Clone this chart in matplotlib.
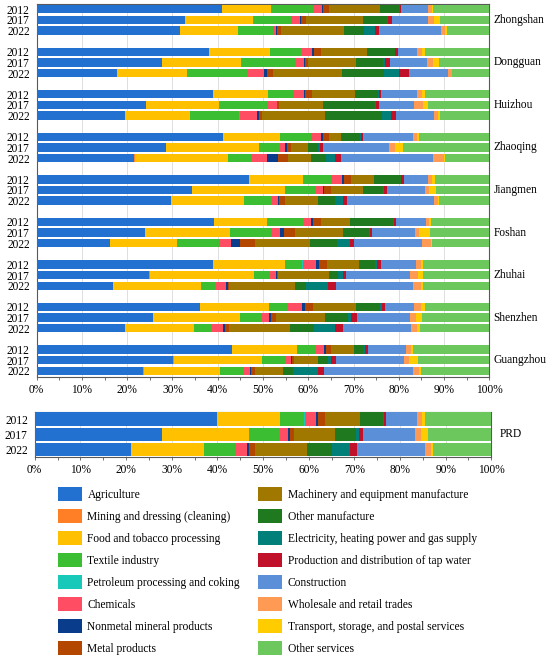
"""Sector shares of output by city, Pearl River Delta, 2012/2017/2022.

Stacked 100% horizontal bars: nine cities on top, PRD total below, shared
two-column legend at the bottom.
"""

import matplotlib
matplotlib.use("Agg")
import matplotlib.pyplot as plt
import numpy as np
from matplotlib.patches import Patch
from matplotlib.ticker import MultipleLocator, PercentFormatter

plt.rcParams["font.family"] = ["Liberation Serif", "DejaVu Serif"]
plt.rcParams["font.size"] = 8.3

SECTORS = [
    "Agriculture", "Mining and dressing (cleaning)", "Food and tobacco processing",
    "Textile industry", "Petroleum processing and coking", "Chemicals",
    "Nonmetal mineral products", "Metal products",
    "Machinery and equipment manufacture", "Other manufacture",
    "Electricity, heating power and gas supply",
    "Production and distribution of tap water", "Construction",
    "Wholesale and retail trades", "Transport, storage, and postal services",
    "Other services",
]
COLORS = [
    "#2270D0", "#FF7F27", "#FFC000", "#3CBE32", "#18C8B8", "#FF4D64",
    "#0A3C8C", "#B34700", "#A07800", "#1F7A1F", "#008078", "#C0102A",
    "#5B90D8", "#FF9A55", "#FFCC00", "#6CC85C",
]
YEARS = ["2012", "2017", "2022"]
CITIES = ["Zhongshan", "Dongguan", "Huizhou", "Zhaoqing", "Jiangmen",
          "Foshan", "Zhuhai", "Shenzhen", "Guangzhou"]

# shares (%) per year, sector order as SECTORS
ZHONGSHAN = [[40.9, 0.05, 10.8, 9.3, 0.0, 2.0, 0.3, 1.4, 11.3, 4.3, 0.1, 0.2, 5.9, 0.9, 0.2, 12.5],
             [32.8, 0.05, 15.0, 8.5, 0.0, 1.9, 0.15, 1.2, 12.5, 5.3, 0.4, 0.7, 8.0, 1.3, 1.3, 11.0],
             [31.8, 0.05, 12.7, 7.8, 0.0, 0.7, 0.1, 1.0, 14.0, 4.3, 2.4, 0.9, 13.7, 1.0, 0.5, 9.3]]
DONGGUAN = [[38.1, 0.05, 13.3, 7.1, 0.0, 2.3, 0.4, 1.5, 10.2, 6.1, 0.1, 0.6, 4.2, 1.1, 0.7, 14.2],
            [27.6, 0.05, 17.5, 12.1, 0.0, 1.8, 0.2, 0.6, 10.5, 6.0, 0.5, 1.0, 8.2, 1.3, 1.3, 11.2],
            [17.8, 0.05, 15.4, 13.5, 0.0, 3.7, 0.6, 1.3, 15.3, 9.2, 3.5, 2.1, 8.6, 0.9, 0.1, 8.2]]
HUIZHOU = [[39.0, 0.05, 12.2, 5.5, 0.0, 2.3, 0.3, 1.5, 9.5, 5.2, 0.1, 0.5, 8.1, 1.0, 0.7, 14.2],
           [24.2, 0.05, 16.3, 10.8, 0.0, 1.9, 0.1, 0.4, 9.8, 11.6, 0.1, 0.7, 7.9, 1.8, 1.3, 13.5],
           [19.5, 0.05, 14.2, 11.0, 0.2, 3.8, 0.3, 0.7, 13.9, 12.7, 1.8, 1.2, 8.3, 1.0, 0.5, 10.8]]
ZHAOQING = [[41.2, 0.05, 12.6, 6.9, 0.0, 2.1, 0.4, 1.3, 2.8, 4.2, 0.1, 0.4, 11.2, 0.9, 0.4, 15.5],
            [28.6, 0.05, 20.7, 4.3, 0.0, 1.3, 0.5, 0.9, 3.8, 2.1, 0.4, 0.7, 14.7, 1.3, 1.8, 19.1],
            [21.6, 0.05, 20.7, 5.1, 0.0, 3.5, 2.4, 2.1, 5.2, 3.2, 2.1, 1.3, 20.3, 2.6, 0.1, 9.8]]
JIANGMEN = [[47.1, 0.05, 11.9, 6.2, 0.0, 2.6, 0.4, 1.5, 5.1, 6.0, 0.1, 0.6, 5.2, 0.9, 0.7, 12.1],
            [34.4, 0.05, 20.5, 6.9, 0.0, 1.5, 0.3, 1.4, 7.1, 4.5, 0.1, 0.7, 8.5, 0.9, 1.5, 11.8],
            [29.7, 0.05, 16.3, 6.1, 0.0, 1.3, 0.3, 1.3, 7.4, 3.8, 1.7, 0.8, 19.4, 0.8, 0.2, 11.2]]
FOSHAN = [[39.1, 0.05, 11.8, 8.2, 0.0, 1.6, 0.4, 1.6, 6.5, 9.6, 0.1, 0.4, 6.7, 0.7, 0.4, 12.9],
          [23.9, 0.05, 18.7, 9.2, 0.0, 1.8, 1.0, 2.4, 10.7, 5.7, 0.2, 0.4, 9.5, 0.9, 2.4, 13.1],
          [16.2, 0.05, 14.9, 9.3, 0.0, 2.7, 1.8, 3.4, 12.1, 6.0, 2.9, 0.9, 15.2, 2.0, 0.1, 12.7]]
ZHUHAI = [[39.0, 0.05, 15.9, 3.6, 0.3, 2.9, 0.7, 1.7, 7.1, 3.6, 0.4, 0.8, 7.7, 1.1, 0.6, 14.6],
          [24.9, 0.05, 23.0, 3.4, 0.0, 1.5, 0.3, 0.2, 11.2, 2.1, 1.0, 0.8, 14.1, 1.7, 1.2, 14.6],
          [16.9, 0.05, 19.4, 3.2, 0.0, 2.3, 0.4, 0.3, 14.5, 2.4, 4.9, 1.8, 17.1, 1.6, 0.6, 14.6]]
SHENZHEN = [[36.1, 0.05, 15.2, 4.1, 0.0, 3.2, 0.7, 1.7, 9.6, 5.2, 0.4, 0.7, 6.5, 1.5, 0.8, 14.3],
            [25.7, 0.05, 19.3, 4.5, 0.0, 1.9, 0.4, 1.0, 11.0, 5.0, 0.8, 1.3, 11.7, 1.2, 1.5, 14.8],
            [19.5, 0.05, 15.2, 4.0, 0.0, 2.4, 0.4, 1.0, 13.4, 5.4, 4.6, 1.8, 14.9, 1.5, 0.6, 15.3]]
GUANGZHOU = [[43.2, 0.05, 14.3, 4.2, 0.0, 1.8, 0.4, 1.1, 5.1, 2.1, 0.4, 0.6, 8.4, 1.1, 0.5, 16.8],
             [30.3, 0.05, 19.6, 5.2, 0.0, 1.2, 0.3, 0.4, 5.3, 2.1, 0.8, 1.0, 15.1, 1.2, 1.9, 15.8],
             [23.6, 0.05, 16.9, 5.1, 0.0, 1.5, 0.3, 0.7, 6.4, 2.2, 5.4, 1.4, 19.7, 1.3, 0.3, 15.2]]
PRD = [[40.0, 0.05, 13.7, 5.4, 0.15, 2.3, 0.5, 1.5, 7.7, 5.2, 0.15, 0.4, 6.9, 1.1, 0.6, 14.5],
       [28.0, 0.05, 19.0, 6.8, 0.0, 1.7, 0.4, 0.9, 9.0, 4.6, 0.7, 0.9, 11.5, 1.2, 1.6, 13.9],
       [21.0, 0.05, 15.9, 7.0, 0.0, 2.6, 0.4, 1.3, 11.4, 5.4, 3.9, 1.5, 15.0, 1.4, 0.4, 12.7]]

CITY_DATA = [ZHONGSHAN, DONGGUAN, HUIZHOU, ZHAOQING, JIANGMEN,
             FOSHAN, ZHUHAI, SHENZHEN, GUANGZHOU]

SPINE = "#595959"
GRID = "#D9D9D9"


def stack(ax, rows, ypos, height):
    shares = np.asarray(rows, dtype=float)
    shares = shares / shares.sum(axis=1, keepdims=True) * 100
    left = np.zeros(len(shares))
    for k, col in enumerate(COLORS):
        ax.barh(ypos, shares[:, k], left=left, height=height, color=col,
                edgecolor="none", zorder=3)
        left += shares[:, k]


def style(ax):
    ax.set_xlim(0, 100)
    ax.xaxis.set_major_locator(MultipleLocator(10))
    ax.xaxis.set_minor_locator(MultipleLocator(5))
    ax.xaxis.set_major_formatter(PercentFormatter(decimals=0))
    ax.tick_params(axis="x", which="both", direction="out", length=2.5,
                   width=0.6, color=SPINE, pad=2.5)
    ax.tick_params(axis="y", length=0, pad=5)
    ax.grid(axis="x", which="major", color=GRID, lw=0.6, zorder=0)
    for sp in ax.spines.values():
        sp.set_color(SPINE)
        sp.set_linewidth(0.8)


fig = plt.figure(figsize=(5.5, 6.61), dpi=100)

# ---- cities panel
ax = fig.add_axes([0.0667, 0.4297, 0.8229, 0.5638])
pos, labels = [], []
for g, rows in enumerate(CITY_DATA):
    yp = [g * 4 + i for i in range(3)]
    stack(ax, rows, yp, 0.78)
    pos += yp
    labels += YEARS
    ax.annotate(CITIES[g], xy=(1, g * 4 + 1), xycoords=("axes fraction", "data"),
                xytext=(3, 0), textcoords="offset points", va="center",
                ha="left")
ax.set_yticks(pos)
ax.set_yticklabels(labels)
ax.set_ylim(34.59, -0.47)
style(ax)

# ---- PRD panel
ax2 = fig.add_axes([0.0631, 0.3082, 0.8302, 0.0690])
stack(ax2, PRD, [0, 1, 2], 0.88)
ax2.set_yticks([0, 1, 2])
ax2.set_yticklabels(YEARS)
ax2.set_ylim(2.53, -0.49)
ax2.annotate("PRD", xy=(1, 1), xycoords=("axes fraction", "data"),
             xytext=(6, 0), textcoords="offset points", va="center", ha="left")
style(ax2)

# ---- legend
handles = [Patch(facecolor=c, edgecolor="none", label=s)
           for s, c in zip(SECTORS, COLORS)]
fig.legend(handles=handles, loc="upper left", ncol=2, frameon=False,
           bbox_to_anchor=(58 / 550, 1 - 487 / 661), borderaxespad=0,
           borderpad=0, handlelength=2.05, handleheight=1.45,
           handletextpad=0.5, labelspacing=0.72, columnspacing=1.6)

fig.savefig("out.png", dpi=100, facecolor="white")
